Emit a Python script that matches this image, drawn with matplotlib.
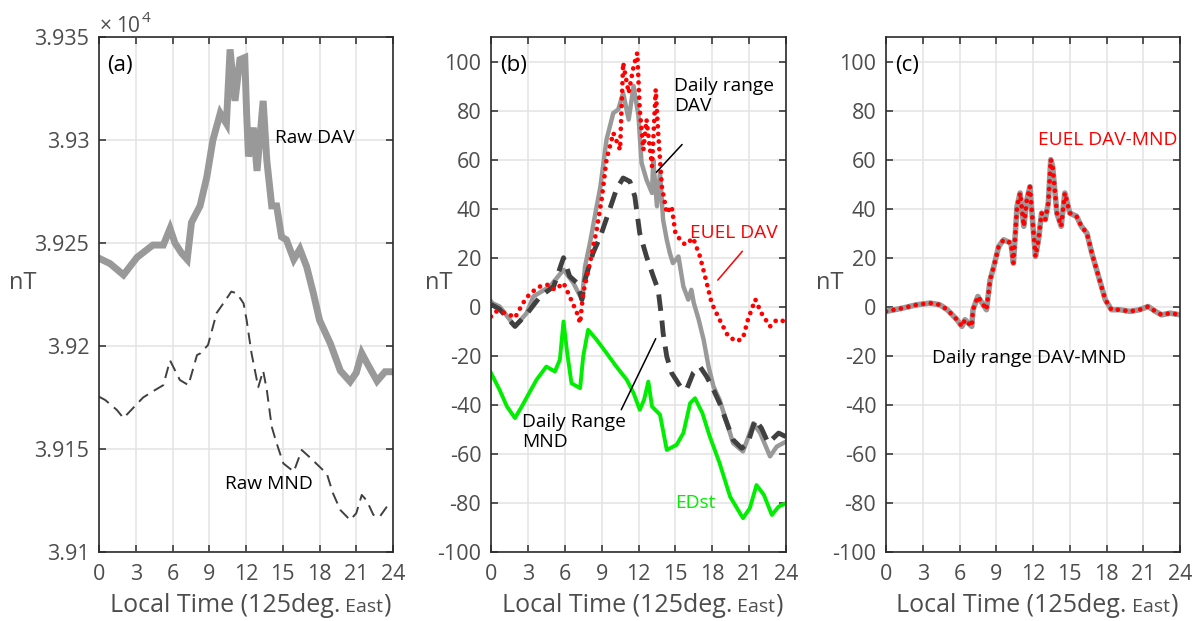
import matplotlib
matplotlib.use("Agg")
import matplotlib.pyplot as plt
from matplotlib.ticker import FuncFormatter

plt.rcParams["font.family"] = ["Open Sans", "DejaVu Sans"]
plt.rcParams["axes.unicode_minus"] = False

# ---- panel (a): raw H component [nT]
dav_t = [0, 0.9, 2.0, 3.1, 4.4, 5.25, 5.8, 6.2, 6.75, 7.2, 7.55, 8.25, 8.8, 9.3, 9.9,
         10.4, 10.7, 11.1, 11.5, 11.9, 12.05, 12.2, 12.6, 12.9, 13.4, 13.7, 14.1, 14.5,
         14.9, 15.3, 15.9, 16.4, 16.95, 17.5, 18.0, 18.9, 19.7, 20.5, 21.0, 21.45, 21.85,
         22.7, 23.35, 24]
dav_raw = [39242.6, 39240, 39234.5, 39243, 39249, 39249, 39257, 39250, 39245, 39242,
           39260, 39268, 39282, 39300, 39313, 39308, 39344, 39319, 39339, 39340, 39313,
           39292, 39306, 39285, 39319, 39290, 39268, 39268, 39253, 39251.5, 39242,
           39247, 39238.5, 39225.6, 39212.6, 39201, 39188, 39182.7, 39187, 39196.5,
           39192, 39183, 39187.5, 39187.5]

mnd_t = [0, 0.5, 1.45, 2.0, 2.8, 3.6, 4.4, 5.25, 5.8, 6.6, 7.3, 8.0, 8.3, 8.9, 9.6,
         10.15, 10.8, 11.25, 11.8, 12.05, 12.45, 13.0, 13.4, 13.7, 14.1, 14.5, 15.05,
         15.9, 16.55, 17.2, 18.0, 18.6, 19.1, 19.7, 20.5, 21.0, 21.45, 21.85, 22.4,
         22.9, 23.5]
mnd_raw = [39175.4, 39173.8, 39169, 39165, 39170, 39175, 39178, 39181, 39193, 39183.5,
           39181, 39195.6, 39196.5, 39200.5, 39216, 39220.7, 39226.4, 39225.6, 39220.7,
           39212.6, 39196.5, 39180, 39188, 39178.6, 39160.8, 39152.8, 39143, 39139,
           39149.5, 39146, 39141.4, 39138, 39128.5, 39120.4, 39115.5, 39118.8, 39127.7,
           39125, 39118, 39117, 39122]

# ---- panel (b): daily ranges, EUEL and EDst [nT]
dr_dav_t = [0, 0.1, 0.7, 1.95, 2.9, 3.45, 4.8, 5.9, 6.7, 7.4, 7.65, 8.05, 8.6, 8.9, 9.4,
            9.95, 10.35, 10.75, 11.2, 11.6, 12.0, 12.25, 12.65, 13.1, 13.2, 13.5, 13.75,
            14.0, 14.3, 14.55, 14.8, 15.25, 15.65, 16.05, 16.3, 16.5, 16.9, 17.3, 17.7,
            18.1, 18.6, 19.2, 19.7, 20.5, 21.35, 21.9, 22.7, 23.25, 24]
dr_dav = [2.2, 1.5, 0.1, -8, -2.6, 4.2, 8.3, 15.1, 9.7, 2.9, 16.4, 26, 41, 49, 68.2,
          79, 80.4, 87.2, 76.3, 90, 77.7, 58.7, 51.8, 46.4, 60, 41, 54.6, 35.5, 27.3,
          21.9, 17.8, 20.5, 8.3, 2.9, 6.9, 1.5, -5.3, -13.5, -24.4, -32.5, -38, -47.5,
          -55.6, -59, -47.5, -51.5, -61, -57, -55]

dr_mnd_t = [0, 0.7, 1.95, 2.9, 4.0, 5.1, 5.9, 6.4, 7.0, 7.4, 7.65, 8.3, 8.9, 9.55, 10.2,
            10.75, 11.3, 11.7, 12.1, 12.65, 13.2, 13.6, 13.9, 14.0, 14.3, 14.7, 15.4,
            15.9, 16.45, 17.0, 17.55, 18.1, 18.6, 19.2, 19.7, 20.4, 20.9, 21.5, 22.0,
            22.55, 23.4, 24]
dr_mnd = [1, -1, -8, -3, 4.2, 8.3, 20, 12.4, 9.7, 2.9, 11, 21.9, 28.7, 38.2, 47.8,
          52.5, 51.1, 45, 30, 20.5, 12.4, 6.9, -5.3, -10.7, -20.3, -27, -32.5, -33.9,
          -27, -24.4, -28.5, -33.9, -39.3, -47.5, -54.3, -57.7, -55.6, -46, -49.5,
          -55.6, -51.5, -53]

euel_t = [0, 0.4, 1.3, 1.95, 2.6, 3.2, 4.0, 4.65, 5.2, 5.9, 6.4, 7.0, 7.25, 7.5, 8.05,
          8.6, 9.0, 9.4, 9.95, 10.5, 10.75, 11.2, 11.6, 11.9, 12.1, 12.4, 12.65, 13.1,
          13.4, 13.6, 13.9, 14.3, 14.7, 15.0, 15.4, 15.8, 16.45, 17.0, 17.55, 17.95,
          18.6, 19.3, 20.0, 20.5, 20.9, 21.5, 22.0, 22.7, 23.25, 24]
euel_dav = [-4, -1.9, -2.6, -4.5, 1.5, 5.6, 8.3, 9, 6.9, 9.7, 4.2, -2.6, -6.7, 5.6,
            17.8, 31.4, 43.7, 60, 70.9, 64, 99.5, 87.2, 98, 103.5, 80.4, 64, 76.3,
            57.3, 88.6, 70.9, 49, 38.2, 41, 30, 27.3, 25.3, 28, 20.5, 9.7, 1.5, -5.3,
            -12.1, -14.1, -12.8, -5.3, 3, -2.6, -8, -5.3, -6]

edst_t = [0, 0.7, 1.3, 1.95, 2.5, 3.1, 3.7, 4.5, 5.2, 5.6, 5.9, 6.2, 6.55, 7.25, 7.5,
          7.9, 8.6, 9.4, 10.2, 11.05, 11.6, 12.1, 12.45, 12.8, 13.1, 13.75, 14.3, 15.1,
          15.65, 16.2, 16.6, 17.2, 17.8, 18.6, 19.45, 20.5, 21.05, 21.6, 22.2, 22.85,
          23.4, 24]
edst = [-27, -33.9, -40.7, -45.4, -40.7, -35.2, -29.8, -24.4, -26.4, -21.6, -6, -18.9,
        -31.2, -33.2, -20.3, -9.4, -13.5, -18.9, -24.4, -29.8, -35.2, -42, -38, -30.5,
        -40.7, -44, -58.4, -56.3, -51.5, -39.3, -37.3, -43.4, -52.9, -63.8, -77.4,
        -86.2, -82.2, -72.7, -76.7, -84.9, -81.5, -80.1]

# ---- panel (c): DAV-MND difference [nT]
diff_t = [0, 1.4, 2.5, 3.6, 4.4, 5.0, 5.8, 6.2, 6.45, 7.0, 7.1, 7.4, 7.5, 8.2, 8.5,
          8.8, 9.2, 9.6, 10.2, 10.4, 10.7, 10.95, 11.25, 11.5, 11.75, 12.0, 12.2,
          12.45, 12.7, 13.0, 13.25, 13.45, 13.6, 13.95, 14.3, 14.6, 15.0, 15.55, 15.95,
          16.4, 16.8, 17.35, 17.9, 18.4, 19.1, 19.9, 20.7, 21.4, 22.0, 22.5, 23.2, 24]
diff_dav_mnd = [-1.9, -0.5, 0.8, 1.5, 0.8, -1.2, -5.3, -8, -5.3, -8, -1.2, 2.9, 4.2,
                -1.2, 11, 16.4, 24.6, 27.3, 26, 17.8, 41, 46.4, 32.8, 43.7, 49, 32.8,
                20.5, 27.3, 38.2, 35.5, 42.3, 60, 57.3, 38.2, 32.8, 46.4, 38.2, 36.9,
                32.8, 30, 21.9, 12.4, 2.9, -1.2, -1.2, -1.9, -1.2, 0.1, -1.9, -3.3,
                -2.6, -3.3]

hour_ticks = list(range(0, 25, 3))
nt_ticks = list(range(-100, 101, 20))

axis_col = "#2b2b2b"
label_col = "#4d4d4d"
gray_col = "#999999"
dark_col = "#404040"
red_col = "#ff0000"
green_col = "#00ee00"
dots = (0, (0.01, 1.6))
note_size = 13.8

fig = plt.figure(figsize=(11.99, 6.21), dpi=100)
ax_a = fig.add_axes([99 / 1199, 69 / 621, 294 / 1199, 515 / 621])
ax_b = fig.add_axes([491 / 1199, 69 / 621, 295 / 1199, 515 / 621])
ax_c = fig.add_axes([886 / 1199, 69 / 621, 294 / 1199, 515 / 621])


def style_axes(ax, nt_x):
    ax.set_xlim(0, 24)
    ax.set_xticks(hour_ticks)
    ax.grid(True, color="#e3e3e3", linewidth=1.1)
    ax.set_axisbelow(True)
    for sp in ax.spines.values():
        sp.set_color(axis_col)
        sp.set_linewidth(1.2)
    ax.tick_params(direction="in", top=True, right=True, length=5, width=1.1,
                   color=axis_col, labelcolor=label_col, labelsize=15.5)
    ax.tick_params(axis="x", pad=9)
    ax.tick_params(axis="y", pad=7)
    ax.text(nt_x, 0.522, "nT", transform=ax.transAxes, fontsize=17,
            color=label_col, ha="right", va="center")


def local_time_label():
    # the "East" part is set in a smaller size, as in the original
    parts = []
    for s, size in [("Local Time (125deg.", 18), (" East", 14), (")", 18)]:
        parts.append(fig.text(0, 9 / 621, s, fontsize=size, color=label_col,
                              ha="left", va="baseline"))
    return parts


# (a)
style_axes(ax_a, -0.211)
ax_a.plot(dav_t, dav_raw, color=gray_col, linewidth=5, solid_joinstyle="miter")
ax_a.plot(mnd_t, mnd_raw, color=dark_col, linewidth=1.4, linestyle=(0, (6, 3.5)))
ax_a.set_ylim(39100, 39350)
ax_a.yaxis.set_major_formatter(FuncFormatter(lambda v, p: f"{v / 1e4:g}"))
fig.text(100 / 1199, 1 - 32 / 621, "\u00d7", fontsize=15, color=label_col,
         ha="left", va="baseline")
fig.text(116 / 1199, 1 - 32 / 621, "10", fontsize=15, color=label_col,
         ha="left", va="baseline")
fig.text(142 / 1199, 1 - 22 / 621, "4", fontsize=11, color=label_col,
         ha="left", va="baseline")
ax_a.text(0.028, 0.965, "(a)", transform=ax_a.transAxes, fontsize=16, va="top",
          color="black")
ax_a.text(14.4, 39301, "Raw DAV", fontsize=note_size, va="center")
ax_a.text(10.3, 39133, "Raw MND", fontsize=note_size, va="center")
labels = [local_time_label()]

# (b)
style_axes(ax_b, -0.132)
ax_b.set_ylim(-100, 110)
ax_b.set_yticks(nt_ticks)
ax_b.plot(edst_t, edst, color=green_col, linewidth=2.8)
ax_b.plot(dr_dav_t, dr_dav, color=gray_col, linewidth=3.2)
ax_b.plot(dr_mnd_t, dr_mnd, color=dark_col, linewidth=3.5, linestyle=(0, (3.4, 2)))
ax_b.plot(euel_t, euel_dav, color=red_col, linewidth=3.4, linestyle=dots,
          dash_capstyle="round")
ax_b.text(0.03, 0.965, "(b)", transform=ax_b.transAxes, fontsize=16, va="top")
ax_b.text(14.9, 86, "Daily range\nDAV", fontsize=note_size, va="center",
          linespacing=1.15)
ax_b.annotate("", xy=(13.3, 54), xytext=(15.7, 67),
              arrowprops=dict(arrowstyle="-", color="black", lw=1.1))
ax_b.text(16.2, 30, "EUEL DAV", fontsize=note_size, va="center", color=red_col)
ax_b.annotate("", xy=(18.3, 10), xytext=(20.6, 23.5),
              arrowprops=dict(arrowstyle="-", color=red_col, lw=1.1))
ax_b.text(2.5, -51, "Daily Range\nMND", fontsize=note_size, va="center",
          linespacing=1.15)
ax_b.annotate("", xy=(13.5, -12), xytext=(10.5, -43),
              arrowprops=dict(arrowstyle="-", color="black", lw=1.1))
ax_b.text(15.0, -80, "EDst", fontsize=note_size, va="center", color=green_col)
labels.append(local_time_label())

# (c)
style_axes(ax_c, -0.146)
ax_c.set_ylim(-100, 110)
ax_c.set_yticks(nt_ticks)
ax_c.plot(diff_t, diff_dav_mnd, color=gray_col, linewidth=4)
ax_c.plot(diff_t, diff_dav_mnd, color=red_col, linewidth=3.4, linestyle=dots,
          dash_capstyle="round")
ax_c.text(0.03, 0.965, "(c)", transform=ax_c.transAxes, fontsize=16, va="top")
ax_c.text(12.4, 68, "EUEL DAV-MND", fontsize=note_size, va="center", color=red_col)
ax_c.text(3.75, -21, "Daily range DAV-MND", fontsize=note_size, va="center")
labels.append(local_time_label())

# lay the composed x labels out side by side, centred under each panel
fig.canvas.draw()
renderer = fig.canvas.get_renderer()
for ax, parts in zip([ax_a, ax_b, ax_c], labels):
    widths = [p.get_window_extent(renderer).width for p in parts]
    bb = ax.get_window_extent(renderer)
    x = (bb.x0 + bb.x1) / 2 + 4 - sum(widths) / 2
    for p, w in zip(parts, widths):
        p.set_x(x / fig.bbox.width)
        x += w

fig.savefig("out.png", dpi=100)
